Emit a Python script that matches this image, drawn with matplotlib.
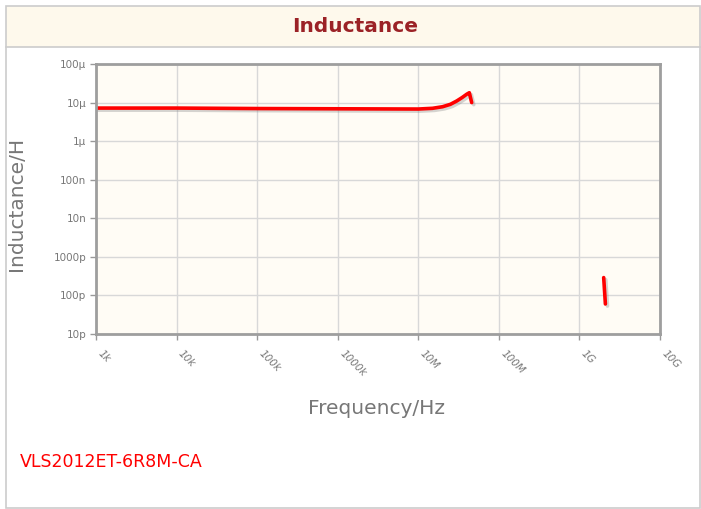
import numpy as np
import matplotlib.pyplot as plt
from matplotlib.patches import Rectangle
import matplotlib.patheffects as pe

# main inductance curve (Hz, H)
freq = [1e3, 1e4, 1e5, 1e6, 1e7, 1.5e7, 2e7, 2.5e7, 3e7, 3.5e7, 4e7, 4.3e7, 4.6e7]
induct = [7.2e-6, 7.2e-6, 7.0e-6, 6.9e-6, 6.8e-6, 7.1e-6, 7.8e-6, 9.0e-6,
          11e-6, 13.5e-6, 16.5e-6, 18e-6, 10e-6]
# short segment near 2 GHz
freq2 = [2.0e9, 2.1e9]
induct2 = [290e-12, 60e-12]

xticks = [1e3, 1e4, 1e5, 1e6, 1e7, 1e8, 1e9, 1e10]
xlabels = ['1k', '10k', '100k', '1000k', '10M', '100M', '1G', '10G']
yticks = [1e-11, 1e-10, 1e-9, 1e-8, 1e-7, 1e-6, 1e-5, 1e-4]
ylabels = ['10p', '100p', '1000p', '10n', '100n', '1\u00b5', '10\u00b5', '100\u00b5']

W, H = 701, 509
fig = plt.figure(figsize=(W / 100, H / 100), dpi=100)

# outer frame and title band
fig.patches.append(Rectangle((6 / W, 1 - 47 / H), 694 / W, 41 / H, transform=fig.transFigure,
                             facecolor='#fef9ec', edgecolor='none', zorder=0))
fig.patches.append(Rectangle((6 / W, 1 - 508 / H), 694 / W, 502 / H, transform=fig.transFigure,
                             facecolor='none', edgecolor='#cccccc', lw=1.2, zorder=1))
fig.lines.append(plt.Line2D([6 / W, 700 / W], [1 - 47 / H, 1 - 47 / H], transform=fig.transFigure,
                            color='#cccccc', lw=1.2))
fig.text(355 / W, 1 - 27 / H, 'Inductance', ha='center', va='center', fontsize=14.5,
         fontweight='bold', color='#9b2226', family='DejaVu Sans')

ax = fig.add_axes([96 / W, 1 - 334 / H, 564 / W, 270 / H])
ax.set_facecolor('#fffcf5')
ax.set_xscale('log')
ax.set_yscale('log')
ax.set_xlim(1e3, 1e10)
ax.set_ylim(1e-11, 1e-4)
ax.minorticks_off()
ax.set_xticks(xticks)
ax.set_xticklabels(xlabels, rotation=-45, ha='left', va='top', fontsize=7.5, color='#777777',
                   style='italic')
ax.set_yticks(yticks)
ax.set_yticklabels(ylabels, fontsize=7.5, color='#777777')
ax.tick_params(axis='both', length=4, width=1, color='#999999', pad=3)
ax.tick_params(axis='x', pad=6)
ax.grid(True, color='#d8d8d8', lw=1)
ax.set_axisbelow(True)
for s in ax.spines.values():
    s.set_color('#9e9e9e')
    s.set_linewidth(2)

shadow = [pe.SimpleLineShadow(offset=(1.5, -1.5), shadow_color='#888888', alpha=0.35), pe.Normal()]
ax.plot(freq, induct, color='#ff0000', lw=2.6, solid_capstyle='round', path_effects=shadow)
ax.plot(freq2, induct2, color='#ff0000', lw=2.6, solid_capstyle='round', path_effects=shadow)

fig.text(17 / W, 1 - 204 / H, 'Inductance/H', rotation=90, ha='center', va='center',
         fontsize=14.5, color='#777777')
fig.text(376 / W, 1 - 408 / H, 'Frequency/Hz', ha='center', va='center',
         fontsize=14.5, color='#777777')
fig.text(20 / W, 1 - 462 / H, 'VLS2012ET-6R8M-CA', ha='left', va='center',
         fontsize=12.5, color='#ff0000')

fig.savefig('out.png', dpi=100)
